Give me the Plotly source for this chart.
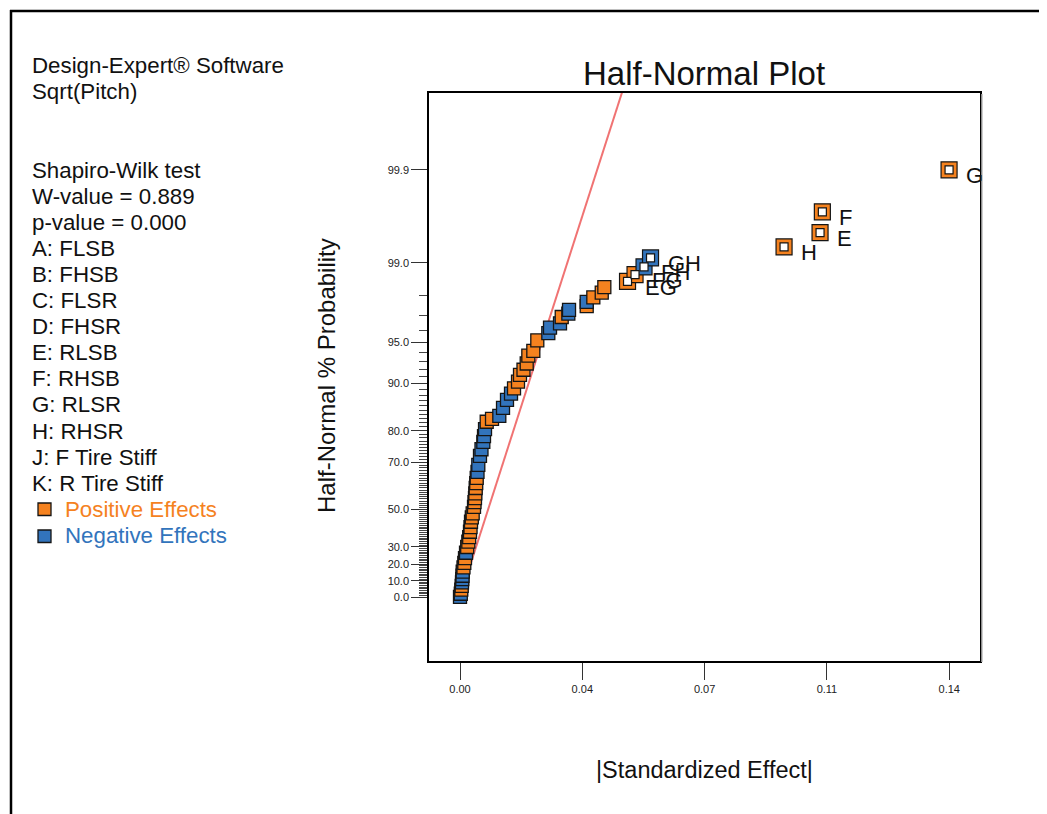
import plotly.graph_objects as go
from statistics import NormalDist

# ---------------------------------------------------------------- data
# unlabeled effects: half-normal % probability, |standardized effect|, sign
effect_pct = [0.1, 2.0, 4.5, 6.8, 9.0, 11.0, 13.0, 15.5, 18.0, 20.8, 23.5, 26.7, 30.0, 33.0, 35.5,
              38.5, 41.0, 43.8, 46.0, 48.1, 51.3, 53.5, 55.4, 57.5, 59.9, 62.0, 64.1, 66.5, 69.1,
              72.3, 74.5, 76.8, 78.5, 80.4, 82.3, 83.0, 83.7, 85.5, 87.1, 88.3, 89.2, 90.3, 91.3,
              92.0, 92.8, 93.7, 94.2, 95.2, 95.8, 96.2, 96.5, 96.9, 97.1, 97.3, 97.5, 97.7, 97.9,
              98.1, 98.3]
effect_size = [0.0, 0.00023, 0.00037, 0.00049, 0.00057, 0.00066, 0.00072, 0.00077, 0.00100, 0.00123,
               0.00143, 0.00172, 0.00206, 0.00238, 0.00263, 0.00286, 0.00301, 0.00315, 0.00338,
               0.00363, 0.00401, 0.00415, 0.00429, 0.00438, 0.00449, 0.00464, 0.00478, 0.00501,
               0.00524, 0.00572, 0.00615, 0.00667, 0.00687, 0.00716, 0.00764, 0.00916, 0.01125,
               0.01231, 0.01345, 0.01460, 0.01546, 0.01660, 0.01717, 0.01817, 0.01909, 0.01955,
               0.02098, 0.02212, 0.02527, 0.02576, 0.02862, 0.02911, 0.03100, 0.03120, 0.03626,
               0.03626, 0.03815, 0.04056, 0.04130]
effect_sign = ['-', '-', '+', '+', '-', '-', '-', '-', '+', '+', '+', '-', '+', '+', '+',
               '+', '+', '+', '+', '+', '+', '+', '+', '+', '+', '+', '+', '-', '-',
               '-', '-', '-', '-', '-', '+', '+', '-', '-', '-', '-', '+', '+', '+',
               '+', '+', '+', '+', '+', '-', '-', '-', '+', '-', '-', '+', '-', '+',
               '+', '+']

# labeled (selected) effects
term_names = ['EG', 'FG', 'FH', 'GH', 'H', 'E', 'F', 'G']
term_pct = [98.5, 98.7, 98.9, 99.1, 99.3, 99.5, 99.7, 99.9]
term_size = [0.04794, 0.05009, 0.05266, 0.05452, 0.09273, 0.10303, 0.10369, 0.13995]
term_sign = ['+', '+', '-', '-', '+', '+', '+', '+']

# reference line
line_size = [0.0, 0.0464]
line_pct = [0.0, 99.99]

# axis ticks
y_major = [0.0, 10.0, 20.0, 30.0, 50.0, 70.0, 80.0, 90.0, 95.0, 99.0, 99.9]
x_ticks = [0.0, 0.035, 0.07, 0.105, 0.14]
x_ticktext = ['0.00', '0.04', '0.07', '0.11', '0.14']

info_lines = ['Shapiro-Wilk test', 'W-value = 0.889', 'p-value = 0.000', 'A: FLSB', 'B: FHSB',
              'C: FLSR', 'D: FHSR', 'E: RLSB', 'F: RHSB', 'G: RLSR', 'H: RHSR',
              'J: F Tire Stiff', 'K: R Tire Stiff']

# ---------------------------------------------------------------- helpers
ORANGE = '#F5821F'
BLUE = '#3274BC'
FONT = 'Arial, Liberation Sans, sans-serif'
OFF = 8  # page body margin
W, H = 1047 - OFF, 814 - OFF
L, R, T, B = 429, 980, 93, 661  # plot area in page pixels


def hn(p):
    # half-normal score for a % probability
    return NormalDist().inv_cdf(0.5 + p / 200.0) if p > 0 else 0.0


def px(x):
    return (x - L) / (R - L)


def py(y):
    return (B - y) / (B - T)


def col(s):
    return ORANGE if s == '+' else BLUE


y_minor = [p for p in range(1, 99) if p not in y_major]

fig = go.Figure()

fig.add_trace(go.Scatter(x=line_size, y=[hn(p) for p in line_pct], mode='lines',
                         line=dict(color='#F07373', width=2), hoverinfo='skip'))

fig.add_trace(go.Scatter(x=effect_size, y=[hn(p) for p in effect_pct], mode='markers',
                         marker=dict(symbol='square', size=13, color=[col(s) for s in effect_sign],
                                     line=dict(color='#151515', width=1.3))))

fig.add_trace(go.Scatter(x=term_size, y=[hn(p) for p in term_pct], mode='markers',
                         marker=dict(symbol='square', size=16, color=[col(s) for s in term_sign],
                                     line=dict(color='#151515', width=1.2))))
fig.add_trace(go.Scatter(x=term_size, y=[hn(p) for p in term_pct], mode='markers',
                         marker=dict(symbol='square', size=8, color='white',
                                     line=dict(color='#151515', width=1.2))))

annotations = []
for name, p, s in zip(term_names, term_pct, term_size):
    annotations.append(dict(x=s, y=hn(p), xref='x', yref='y', text=name, showarrow=False,
                            xanchor='left', yanchor='middle', xshift=15, yshift=-6,
                            font=dict(family=FONT, size=22, color='#111')))

# left info panel
annotations.append(dict(x=px(30), y=py(66), xref='paper', yref='paper', xanchor='left',
                        yanchor='middle', showarrow=False, text='Design-Expert® Software',
                        font=dict(family=FONT, size=22.3, color='#111')))
annotations.append(dict(x=px(30), y=py(92), xref='paper', yref='paper', xanchor='left',
                        yanchor='middle', showarrow=False, text='Sqrt(Pitch)',
                        font=dict(family=FONT, size=22.3, color='#111')))
for i, t in enumerate(info_lines):
    annotations.append(dict(x=px(30), y=py(170 + 26.1 * i), xref='paper', yref='paper',
                            xanchor='left', yanchor='middle', showarrow=False, text=t,
                            font=dict(family=FONT, size=22.3, color='#111')))
annotations.append(dict(x=px(63), y=py(509), xref='paper', yref='paper', xanchor='left',
                        yanchor='middle', showarrow=False, text='Positive Effects',
                        font=dict(family=FONT, size=22.3, color=ORANGE)))
annotations.append(dict(x=px(63), y=py(535.5), xref='paper', yref='paper', xanchor='left',
                        yanchor='middle', showarrow=False, text='Negative Effects',
                        font=dict(family=FONT, size=22.3, color=BLUE)))

# titles
annotations.append(dict(x=px(704), y=py(73), xref='paper', yref='paper', showarrow=False,
                        text='Half-Normal Plot', xanchor='center', yanchor='middle',
                        font=dict(family=FONT, size=33, color='#111')))
annotations.append(dict(x=px(704), y=py(770), xref='paper', yref='paper', showarrow=False,
                        text='|Standardized Effect|', xanchor='center', yanchor='middle',
                        font=dict(family=FONT, size=23.5, color='#111')))
annotations.append(dict(x=px(327), y=py(376), xref='paper', yref='paper', showarrow=False,
                        text='Half-Normal % Probability', textangle=-90,
                        xanchor='center', yanchor='middle',
                        font=dict(family=FONT, size=24, color='#111')))

shapes = [
    dict(type='line', xref='paper', yref='paper', x0=px(11), x1=px(11), y0=py(10), y1=py(830),
         line=dict(color='black', width=2.5)),
    dict(type='line', xref='paper', yref='paper', x0=px(10), x1=px(1060), y0=py(11), y1=py(11),
         line=dict(color='black', width=2.5)),
    dict(type='rect', xref='paper', yref='paper', x0=px(38), x1=px(51), y0=py(503), y1=py(515.5),
         fillcolor=ORANGE, line=dict(color='#151515', width=1.3)),
    dict(type='rect', xref='paper', yref='paper', x0=px(38), x1=px(51), y0=py(530), y1=py(542.5),
         fillcolor=BLUE, line=dict(color='#151515', width=1.3)),
    dict(type='line', xref='paper', yref='paper', x0=px(982), x1=px(982), y0=py(94), y1=py(662),
         line=dict(color='#bdbdbd', width=1.5)),
]

fig.update_layout(
    width=W, height=H, autosize=False,
    margin=dict(l=L - OFF, r=W - (R - OFF), t=T - OFF, b=H - (B - OFF)),
    paper_bgcolor='white', plot_bgcolor='white',
    showlegend=False,
    font=dict(family=FONT, color='#222'),
    xaxis=dict(range=[-0.00887, 0.1488], tickmode='array', tickvals=x_ticks, ticktext=x_ticktext,
               ticks='outside', ticklen=17, tickwidth=1, tickcolor='#333',
               showline=True, mirror=True, linecolor='black', linewidth=1.5,
               showgrid=False, zeroline=False, tickfont=dict(size=11, color='#222')),
    yaxis=dict(range=[-0.493, 3.883], tickmode='array', tickvals=[hn(p) for p in y_major],
               ticktext=['%.1f' % p for p in y_major],
               ticks='outside', ticklen=16, tickwidth=1, tickcolor='#333',
               minor=dict(tickmode='array', tickvals=[hn(p) for p in y_minor], ticks='outside',
                          ticklen=8, tickwidth=1, tickcolor='#444'),
               showline=True, mirror=True, linecolor='black', linewidth=1.5,
               showgrid=False, zeroline=False, tickfont=dict(size=11, color='#222')),
    annotations=annotations,
    shapes=shapes,
)

fig.write_html('out.html')
